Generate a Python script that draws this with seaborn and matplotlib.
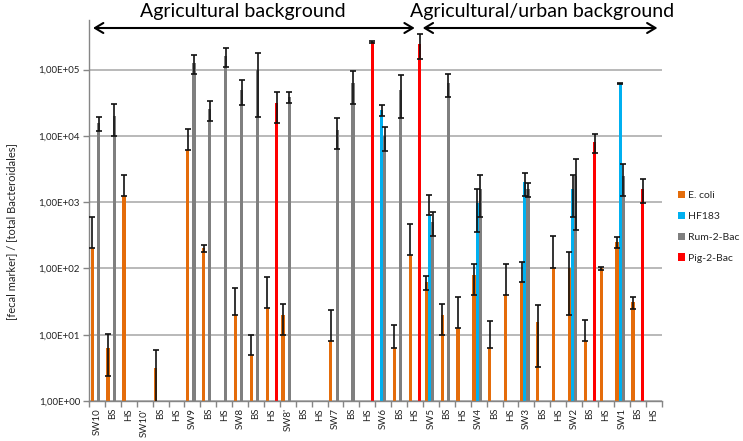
import pandas as pd
import seaborn as sns
import matplotlib
matplotlib.use("Agg")
from matplotlib import pyplot as plt
from matplotlib import transforms
from matplotlib.colors import to_hex
from matplotlib.ticker import FixedLocator, FuncFormatter, NullLocator

### Chart data ###
sites = ["SW10", "SW10'", "SW9", "SW8", "SW8'", "SW7", "SW6", "SW5", "SW4", "SW3", "SW2", "SW1"]
sample_types = ["", "BS", "HS"]
markers = ["E. coli", "HF183", "Rum-2-Bac", "Pig-2-Bac"]
colors = ["#E46C0A", "#00B0F0", "#7F7F7F", "#FF0000"]
N = None

e_coli = [200, 6.3, 1250, N, 3.2, N, 6200, 200, N, 20, 4.9, 25, 19.6, N, N, 8, N, N,
          N, 6.3, 160, 62, 19.7, 12.6, 79, 6.3, 40, 62, 15.8, 100, 100, 8, 100, 250, 31, N]
e_coli_err = [394, 3.9, 1300, N, 2.6, N, 6500, 25, N, 31, 5.0, 50, 9.8, N, N, 15.5, N, N,
              N, 7.9, 310, 15, 9.7, 24.5, 39, 10, 78, 63, 12.5, 205, 80, 8.4, 4, 46, 6.5, N]

hf183 = [N, N, N, N, N, N, N, N, N, N, N, N, N, N, N, N, N, N,
         24700, N, N, 630, N, N, 970, N, N, 2000, N, N, 1600, N, N, 62000, N, N]
hf183_err = [N, N, N, N, N, N, N, N, N, N, N, N, N, N, N, N, N, N,
             5000, N, N, 640, N, N, 610, N, N, 770, N, N, 1000, N, N, 500, N, N]

rum = [15500, 20000, N, N, N, N, 126000, 25000, 160000, 50000, 100000, N, 39000, N, N, 12400, 62500, N,
       9900, 50000, N, 505, 62000, N, 1590, N, N, 1580, N, N, 2440, N, N, 2520, N, N]
rum_err = [3600, 10000, N, N, N, N, 41000, 8300, 51000, 20300, 81000, N, 7600, N, N, 6100, 31800, N,
           3900, 31500, N, 200, 24000, N, 1000, N, N, 380, N, N, 2060, N, N, 1270, N, N]

pig = [N, N, N, N, N, N, N, N, N, N, N, 31000, N, N, N, N, N, 260000,
       N, N, 245000, N, N, N, N, N, N, N, N, N, N, 8000, N, N, 1580, N]
pig_err = [N, N, N, N, N, N, N, N, N, N, N, 15500, N, N, N, N, N, 12000,
           N, N, 98000, N, N, N, N, N, N, N, N, N, N, 2500, N, N, 620, N]

### Build long dataframe ###
keys = [s + " " + t for s in sites for t in sample_types]
tick_labels = [t if t else s for s in sites for t in sample_types]
series = {"E. coli": (e_coli, e_coli_err), "HF183": (hf183, hf183_err),
          "Rum-2-Bac": (rum, rum_err), "Pig-2-Bac": (pig, pig_err)}
color_to_marker = {to_hex(c): m for c, m in zip(colors, markers)}

rows = []
for m in markers:
    for k, v in zip(keys, series[m][0]):
        if v is not None:
            rows.append({"sample": k, "marker": m, "value": v})
df = pd.DataFrame(rows)

### Plot ###
sns.set_theme(style="white")
plt.rcParams["font.family"] = ["Lato", "DejaVu Sans"]

fig = plt.figure(figsize=(7.43, 4.41), dpi=100)
ax = fig.add_axes([89 / 743, 40 / 441, 572.6 / 743, 381 / 441])

sns.barplot(data=df, x="sample", y="value", hue="marker", order=keys, hue_order=markers,
            palette=colors, saturation=1, width=0.8, gap=0.0, errorbar=None,
            linewidth=0, ax=ax)
ax.set_yscale("log")
ax.set_ylim(1, 5.6e5)
ax.set_xlim(-0.5, len(keys) - 0.5)

### Error bars on top of each bar ###
for bar in ax.patches:
    m = color_to_marker.get(to_hex(bar.get_facecolor()))
    if m is None or bar.get_height() <= 0:
        continue
    vals, errs = series[m]
    cx = bar.get_x() + bar.get_width() / 2
    i = int(round(cx))
    v, e = vals[i], errs[i]
    if v is None or e is None:
        continue
    lo = e if v - e > 0 else 0
    ax.errorbar(cx, v, yerr=[[lo], [e]], fmt="none", ecolor="#111111",
                elinewidth=1.2, capsize=2.4, capthick=1.2, zorder=5)

### Axes styling ###
ax.yaxis.set_major_locator(FixedLocator([10 ** k for k in range(6)]))
ax.yaxis.set_minor_locator(NullLocator())
ax.yaxis.set_major_formatter(FuncFormatter(lambda v, p: f"{v:.2E}".replace(".", ",")))
ax.tick_params(axis="y", which="major", length=4.5, width=1, color="#868686",
               labelsize=7, labelcolor="#222222", pad=2, left=True)
ax.yaxis.grid(True, color="#A6A6A6", lw=1.1)
ax.xaxis.grid(False)
ax.set_axisbelow(True)

ax.set_xticks(range(len(keys)))
ax.set_xticklabels(tick_labels, rotation=90)
ax.set_xticks([k - 0.5 for k in range(len(keys) + 1)], minor=True)
ax.tick_params(axis="x", which="major", length=0, labelsize=7, labelcolor="#222222", pad=5)
ax.tick_params(axis="x", which="minor", length=4, width=1, color="#868686", bottom=True)

for side in ["top", "right"]:
    ax.spines[side].set_visible(False)
for side in ["left", "bottom"]:
    ax.spines[side].set_color("#868686")
    ax.spines[side].set_linewidth(1)

ax.set_xlabel("")
ax.set_ylabel("")
fig.text(12 / 743, 1 - 232 / 441, "[fecal marker] / [total Bacteroidales]",
         rotation=90, ha="center", va="center", fontsize=8, color="#222222")

### Legend ###
handles, labels = ax.get_legend_handles_labels()
ax.legend(handles, labels, loc="upper left", bbox_to_anchor=(678 / 743, 1 - 191 / 441),
          bbox_transform=fig.transFigure, frameon=False, fontsize=7.5,
          handlelength=0.7, handleheight=0.7, handletextpad=0.25,
          labelspacing=1.1, borderpad=0, borderaxespad=0)

### Background arrows ###
trans = transforms.blended_transform_factory(ax.transData, ax.transAxes)
arrow = dict(arrowstyle="<->,head_length=0.5,head_width=0.3", lw=1.5, color="black",
             shrinkA=0, shrinkB=0)
ax.annotate("", xy=(-0.25, 0.979), xytext=(19.98, 0.979), xycoords=trans, textcoords=trans,
            arrowprops=arrow, annotation_clip=False)
ax.annotate("", xy=(20.48, 0.979), xytext=(35.24, 0.979), xycoords=trans, textcoords=trans,
            arrowprops=arrow, annotation_clip=False)
ax.text(9.14, 1.008, "Agricultural background", transform=trans, ha="center", va="baseline",
        fontsize=14, color="black", clip_on=False)
ax.text(27.99, 1.008, "Agricultural/urban background", transform=trans, ha="center", va="baseline",
        fontsize=14, color="black", clip_on=False)

fig.savefig("out.png", dpi=100)
